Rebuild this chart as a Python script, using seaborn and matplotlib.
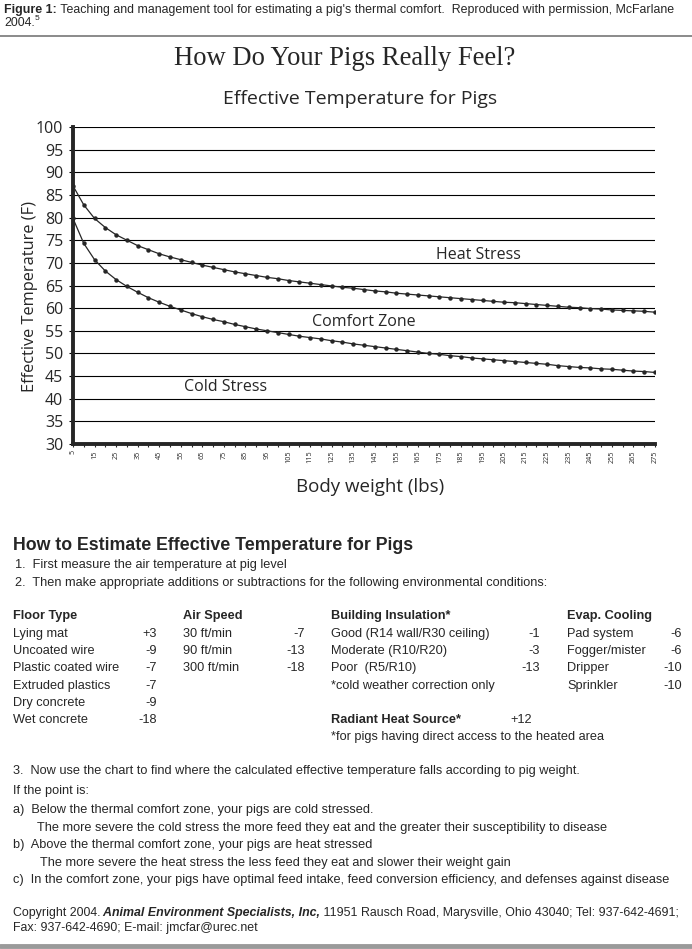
import matplotlib
matplotlib.use('Agg')
import matplotlib.pyplot as plt
import seaborn as sns
import pandas as pd

# --- data --------------------------------------------------------------------
weights = [5, 10, 15, 20, 25, 30, 35, 40, 45, 50, 55, 60, 65, 70, 75, 80, 85, 90,
           95, 100, 105, 110, 115, 120, 125, 130, 135, 140, 145, 150, 155, 160,
           165, 170, 175, 180, 185, 190, 195, 200, 205, 210, 215, 220, 225, 230,
           235, 240, 245, 250, 255, 260, 265, 270, 275]

# upper edge of comfort zone (heat stress above)
upper_limit = [87.0, 82.8, 79.8, 77.8, 76.2, 75.0, 73.8, 72.9, 72.0, 71.3, 70.7,
               70.1, 69.5, 69.0, 68.5, 68.0, 67.6, 67.2, 66.8, 66.5, 66.1, 65.8,
               65.5, 65.2, 64.9, 64.6, 64.4, 64.1, 63.8, 63.6, 63.3, 63.1, 62.9,
               62.7, 62.5, 62.3, 62.1, 61.9, 61.7, 61.5, 61.3, 61.2, 61.0, 60.8,
               60.6, 60.4, 60.2, 60.1, 59.9, 59.8, 59.6, 59.5, 59.4, 59.3, 59.1]

# lower edge of comfort zone (cold stress below)
lower_limit = [79.8, 74.3, 70.7, 68.2, 66.3, 64.8, 63.5, 62.3, 61.3, 60.4, 59.6,
               58.8, 58.1, 57.5, 57.0, 56.4, 55.9, 55.4, 55.0, 54.6, 54.2, 53.8,
               53.5, 53.2, 52.8, 52.5, 52.1, 51.8, 51.5, 51.2, 50.9, 50.6, 50.3,
               50.0, 49.8, 49.5, 49.3, 49.0, 48.8, 48.6, 48.4, 48.2, 48.0, 47.8,
               47.6, 47.3, 47.1, 46.9, 46.8, 46.6, 46.5, 46.3, 46.1, 46.0, 45.8]

x_tick_values = [5, 15, 25, 35, 45, 55, 65, 75, 85, 95, 105, 115, 125, 135, 145,
                 155, 165, 175, 185, 195, 205, 215, 225, 235, 245, 255, 265, 275]
y_tick_values = [30, 35, 40, 45, 50, 55, 60, 65, 70, 75, 80, 85, 90, 95, 100]

zone_labels = ['Heat Stress', 'Comfort Zone', 'Cold Stress']

floor_names = ['Lying mat', 'Uncoated wire', 'Plastic coated wire',
               'Extruded plastics', 'Dry concrete', 'Wet concrete']
floor_values = ['+3', '-9', '-7', '-7', '-9', '-18']
air_names = ['30 ft/min', '90 ft/min', '300 ft/min']
air_values = ['-7', '-13', '-18']
insul_names = ['Good (R14 wall/R30 ceiling)', 'Moderate (R10/R20)', 'Poor  (R5/R10)']
insul_values = ['-1', '-3', '-13']
cool_names = ['Pad system', 'Fogger/mister', 'Dripper', 'Sprinkler']
cool_values = ['-6', '-6', '-10', '-10']

# --- style -------------------------------------------------------------------
sns.set_style('ticks')
CHART_FONT = ['Open Sans', 'DejaVu Sans']
BODY_FONT = ['Liberation Sans', 'DejaVu Sans']
plt.rcParams['font.family'] = CHART_FONT
INK = '#262626'

W, H = 692, 949
fig = plt.figure(figsize=(W / 100, H / 100), dpi=100)
bg = fig.add_axes([0, 0, 1, 1])
bg.set_xlim(0, W)
bg.set_ylim(H, 0)
bg.axis('off')


def put(x, y, s, **kw):
    kw.setdefault('va', 'center')
    kw.setdefault('color', INK)
    return bg.text(x, y, s, **kw)


def after(prev, s, **kw):
    # continue a line right after another text
    kw.setdefault('color', INK)
    return bg.annotate(s, xy=(1, 0), xycoords=prev, va='bottom', ha='left', **kw)


FS = 9.2
body = dict(fontsize=FS, family=BODY_FONT)
bold = dict(fontsize=FS, family=BODY_FONT, fontweight='bold')
small = dict(fontsize=8.9, family=BODY_FONT)

# --- header ------------------------------------------------------------------
t = put(4, 10, 'Figure 1:', fontsize=8.9, family=BODY_FONT, fontweight='bold')
after(t, " Teaching and management tool for estimating a pig's thermal comfort.  "
         "Reproduced with permission, McFarlane", **small)
t = put(4, 23, '2004.', **small)
bg.annotate('5', xy=(1, 0.6), xycoords=t, va='bottom', ha='left',
            fontsize=6, family=BODY_FONT, color=INK)
bg.plot([0, W], [36, 36], color='#8a8a8a', lw=1.4)

put(345, 58, 'How Do Your Pigs Really Feel?', ha='center', fontsize=19.2,
    family=['Liberation Serif', 'DejaVu Serif'])
put(360, 99, 'Effective Temperature for Pigs', ha='center', fontsize=14)

# --- chart -------------------------------------------------------------------
df = pd.DataFrame({
    'weight': weights * 2,
    'temp': upper_limit + lower_limit,
    'edge': ['upper'] * len(weights) + ['lower'] * len(weights),
})

ax = fig.add_axes([73 / W, 1 - 444 / H, (655 - 73) / W, (444 - 127) / H])
sns.lineplot(data=df, x='weight', y='temp', hue='edge',
             palette=[INK, INK], marker='o', markersize=3.2,
             markeredgewidth=0, linewidth=0.9, legend=False, ax=ax)

ax.set_xlim(5, 275)
ax.set_ylim(30, 100)
ax.set_yticks(y_tick_values)
ax.set_xticks(x_tick_values)
ax.set_xticks(weights, minor=True)
ax.set_xticklabels([str(v) for v in x_tick_values], rotation=90, fontsize=5.2)
ax.tick_params(axis='y', labelsize=11.5, length=3, width=0.8, pad=4,
               color='black', labelcolor=INK)
ax.tick_params(axis='x', which='both', length=2.5, width=0.8, pad=2,
               color=INK, labelcolor=INK)
ax.yaxis.grid(True, color='black', lw=0.8)
ax.set_axisbelow(True)
sns.despine(ax=ax, top=True, right=True)
for side in ['left', 'bottom']:
    ax.spines[side].set_linewidth(2.8)
    ax.spines[side].set_color(INK)

ax.set_ylabel('Effective Temperature (F)', fontsize=11.8, color=INK)
ax.set_xlabel('Body weight (lbs)', fontsize=13.5, color=INK)
ax.xaxis.set_label_coords((370 - 73) / (655 - 73), -(478 - 444) / (444 - 127))
ax.yaxis.set_label_coords(-(73 - 38) / (655 - 73), 0.465)

for label, (lx, ly) in zip(zone_labels, [(193, 71.7), (140, 57.0), (76, 42.5)]):
    ax.text(lx, ly, label, ha='center', va='center', fontsize=11.5, color=INK)

# --- how-to text -------------------------------------------------------------
put(13, 546, 'How to Estimate Effective Temperature for Pigs', fontsize=12.8,
    family=BODY_FONT, fontweight='bold')
put(15, 565, '1.  First measure the air temperature at pig level', **body)
put(15, 583, '2.  Then make appropriate additions or subtractions for the '
             'following environmental conditions:', **body)

head_y = 616
rows_y = [634, 651, 668, 686, 703, 720]
columns = [
    ('Floor Type', 13, 157, floor_names, floor_values),
    ('Air Speed', 183, 305, air_names, air_values),
    ('Building Insulation*', 331, 540, insul_names, insul_values),
    ('Evap. Cooling', 567, 682, cool_names, cool_values),
]
for title, x_name, x_val, names, values in columns:
    put(x_name, head_y, title, **bold)
    for yy, name, val in zip(rows_y, names, values):
        put(x_name, yy, name, **body)
        put(x_val, yy, val, ha='right', **body)

put(331, rows_y[3], '*cold weather correction only', **body)
put(331, 720, 'Radiant Heat Source*', **bold)
put(510, 720, '+12', **body)
put(331, 737, '*for pigs having direct access to the heated area', **body)

put(13, 771, '3.  Now use the chart to find where the calculated effective '
             'temperature falls according to pig weight.', **body)
put(13, 791, 'If the point is:', **body)
put(13, 810, 'a)  Below the thermal comfort zone, your pigs are cold stressed.', **body)
put(37, 828, 'The more severe the cold stress the more feed they eat and the '
             'greater their susceptibility to disease', **body)
put(13, 845, 'b)  Above the thermal comfort zone, your pigs are heat stressed', **body)
put(40, 863, 'The more severe the heat stress the less feed they eat and slower '
             'their weight gain', **body)
put(13, 880, 'c)  In the comfort zone, your pigs have optimal feed intake, feed '
             'conversion efficiency, and defenses against disease', **body)

t = put(13, 913, 'Copyright 2004.', **small)
t = after(t, ' Animal Environment Specialists, Inc,', fontsize=8.9,
          family=BODY_FONT, fontweight='bold', fontstyle='italic')
after(t, ' 11951 Rausch Road, Marysville, Ohio 43040; Tel: 937-642-4691;', **small)
put(13, 928, 'Fax: 937-642-4690; E-mail: jmcfar@urec.net', **small)

bg.plot([0, W], [946, 946], color='#9a9a9a', lw=3.5)

fig.savefig('out.png', dpi=100, facecolor='white')
